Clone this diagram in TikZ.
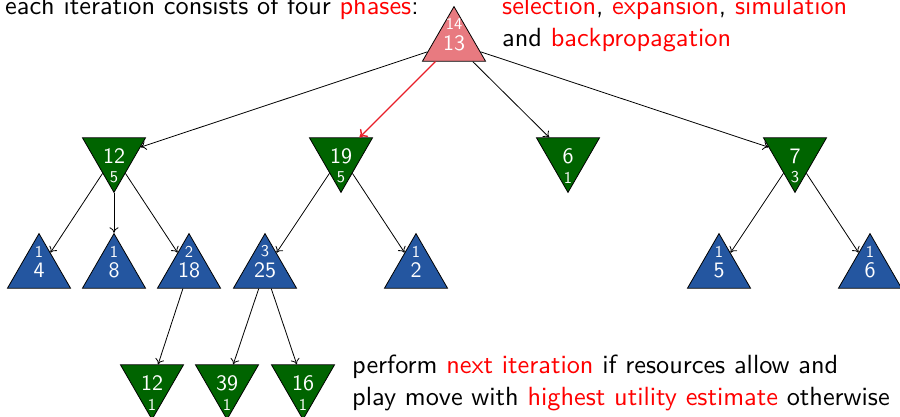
\documentclass[tikz,border=0pt]{standalone}
\usepackage{fontspec}
% one design size for every text size
\setsansfont{lmsans10-regular.otf}
\usetikzlibrary{shapes.geometric,arrows.meta}
\definecolor{nodegreen}{RGB}{0,100,0}
\definecolor{nodeblue}{RGB}{36,86,160}
\definecolor{rootred}{RGB}{232,122,128}
\definecolor{edgered}{RGB}{232,30,40}
\begin{document}
\begin{tikzpicture}[x=1pt,y=-1pt,font=\sffamily,
  tri/.style={regular polygon,regular polygon sides=3,minimum size=72.8pt,
    inner sep=0pt,draw=black,line width=0.8pt},
  upT/.style={tri},
  downT/.style={tri,shape border rotate=180},
  bigval/.style={text=white,inner sep=0pt,font=\sffamily\fontsize{22}{22}\selectfont},
  smallval/.style={text=white,inner sep=0pt,font=\sffamily\fontsize{16.5}{16.5}\selectfont},
  edge/.style={-{To[length=5.5pt,width=9pt]},line width=0.8pt},
  hot/.style={-{To[length=7pt,width=11pt]},draw=edgered,line width=1.4pt},
  caption/.style={inner sep=0pt,anchor=base west,font=\sffamily\fontsize{26.3}{26.3}\selectfont}]
\useasboundingbox (0,0) rectangle (900,417);

% root
\node[upT,fill=rootred] (root) at (454,43) {};
% first level (min)
\node[downT,fill=nodegreen] (n12) at (114,156) {};
\node[downT,fill=nodegreen] (n19) at (341,156) {};
\node[downT,fill=nodegreen] (n6)  at (568,156) {};
\node[downT,fill=nodegreen] (n7)  at (795,156) {};
% second level (max)
\node[upT,fill=nodeblue] (b4)  at (39,270) {};
\node[upT,fill=nodeblue] (b8)  at (114,270) {};
\node[upT,fill=nodeblue] (b18) at (189,270) {};
\node[upT,fill=nodeblue] (b25) at (265,270) {};
\node[upT,fill=nodeblue] (b2)  at (416,270) {};
\node[upT,fill=nodeblue] (b5)  at (719,270) {};
\node[upT,fill=nodeblue] (b6)  at (870,270) {};
% third level (min)
\node[downT,fill=nodegreen] (g12) at (152,383) {};
\node[downT,fill=nodegreen] (g39) at (227,383) {};
\node[downT,fill=nodegreen] (g16) at (303,383) {};

% values and visit counts
\node[smallval] (root-n) at (454,23.5) {14};
\node[bigval]   (root-v) at (454,43) {13};

\node[bigval]   (n12-v) at (114,156.5) {12};
\node[smallval] (n12-n) at (114,177.5) {5};
\node[bigval]   (n19-v) at (341,156.5) {19};
\node[smallval] (n19-n) at (341,177.5) {5};
\node[bigval]   (n6-v)  at (568,156.5) {6};
\node[smallval] (n6-n)  at (568,177.5) {1};
\node[bigval]   (n7-v)  at (795,156.5) {7};
\node[smallval] (n7-n)  at (795,177.5) {3};

\node[smallval] (b4-n)  at (39,251.5) {1};
\node[bigval]   (b4-v)  at (39,270.5) {4};
\node[smallval] (b8-n)  at (114,251.5) {1};
\node[bigval]   (b8-v)  at (114,270.5) {8};
\node[smallval] (b18-n) at (189,251.5) {2};
\node[bigval]   (b18-v) at (189,270.5) {18};
\node[smallval] (b25-n) at (265,251.5) {3};
\node[bigval]   (b25-v) at (265,270.5) {25};
\node[smallval] (b2-n)  at (416,251.5) {1};
\node[bigval]   (b2-v)  at (416,270.5) {2};
\node[smallval] (b5-n)  at (719,251.5) {1};
\node[bigval]   (b5-v)  at (719,270.5) {5};
\node[smallval] (b6-n)  at (870,251.5) {1};
\node[bigval]   (b6-v)  at (870,270.5) {6};

\node[bigval]   (g12-v) at (152,383.5) {12};
\node[smallval] (g12-n) at (152,404.5) {1};
\node[bigval]   (g39-v) at (227,383.5) {39};
\node[smallval] (g39-n) at (227,404.5) {1};
\node[bigval]   (g16-v) at (303,383.5) {16};
\node[smallval] (g16-n) at (303,404.5) {1};

% edges
\draw[edge] (root) -- (n12);
\draw[hot]  (root) -- (n19);
\draw[edge] (root) -- (n6);
\draw[edge] (root) -- (n7);
\draw[edge] (n12) -- (b4);
\draw[edge] (n12) -- (b8);
\draw[edge] (n12) -- (b18);
\draw[edge] (n19) -- (b25);
\draw[edge] (n19) -- (b2);
\draw[edge] (n7) -- (b5);
\draw[edge] (n7) -- (b6);
\draw[edge] (b18) -- (g12);
\draw[edge] (b25) -- (g39);
\draw[edge] (b25) -- (g16);

% captions
\node[caption] (cap1) at (5,15) {each iteration consists of four \textcolor{red}{phases}:};
\node[caption] (cap2) at (502,15) {\textcolor{red}{selection}, \textcolor{red}{expansion}, \textcolor{red}{simulation}};
\node[caption] (cap3) at (502,47) {and \textcolor{red}{backpropagation}};
\node[caption] (cap4) at (352,373) {perform \textcolor{red}{next iteration} if resources allow and};
\node[caption] (cap5) at (352,405) {play move with \textcolor{red}{highest utility estimate} otherwise};
\end{tikzpicture}
\end{document}
